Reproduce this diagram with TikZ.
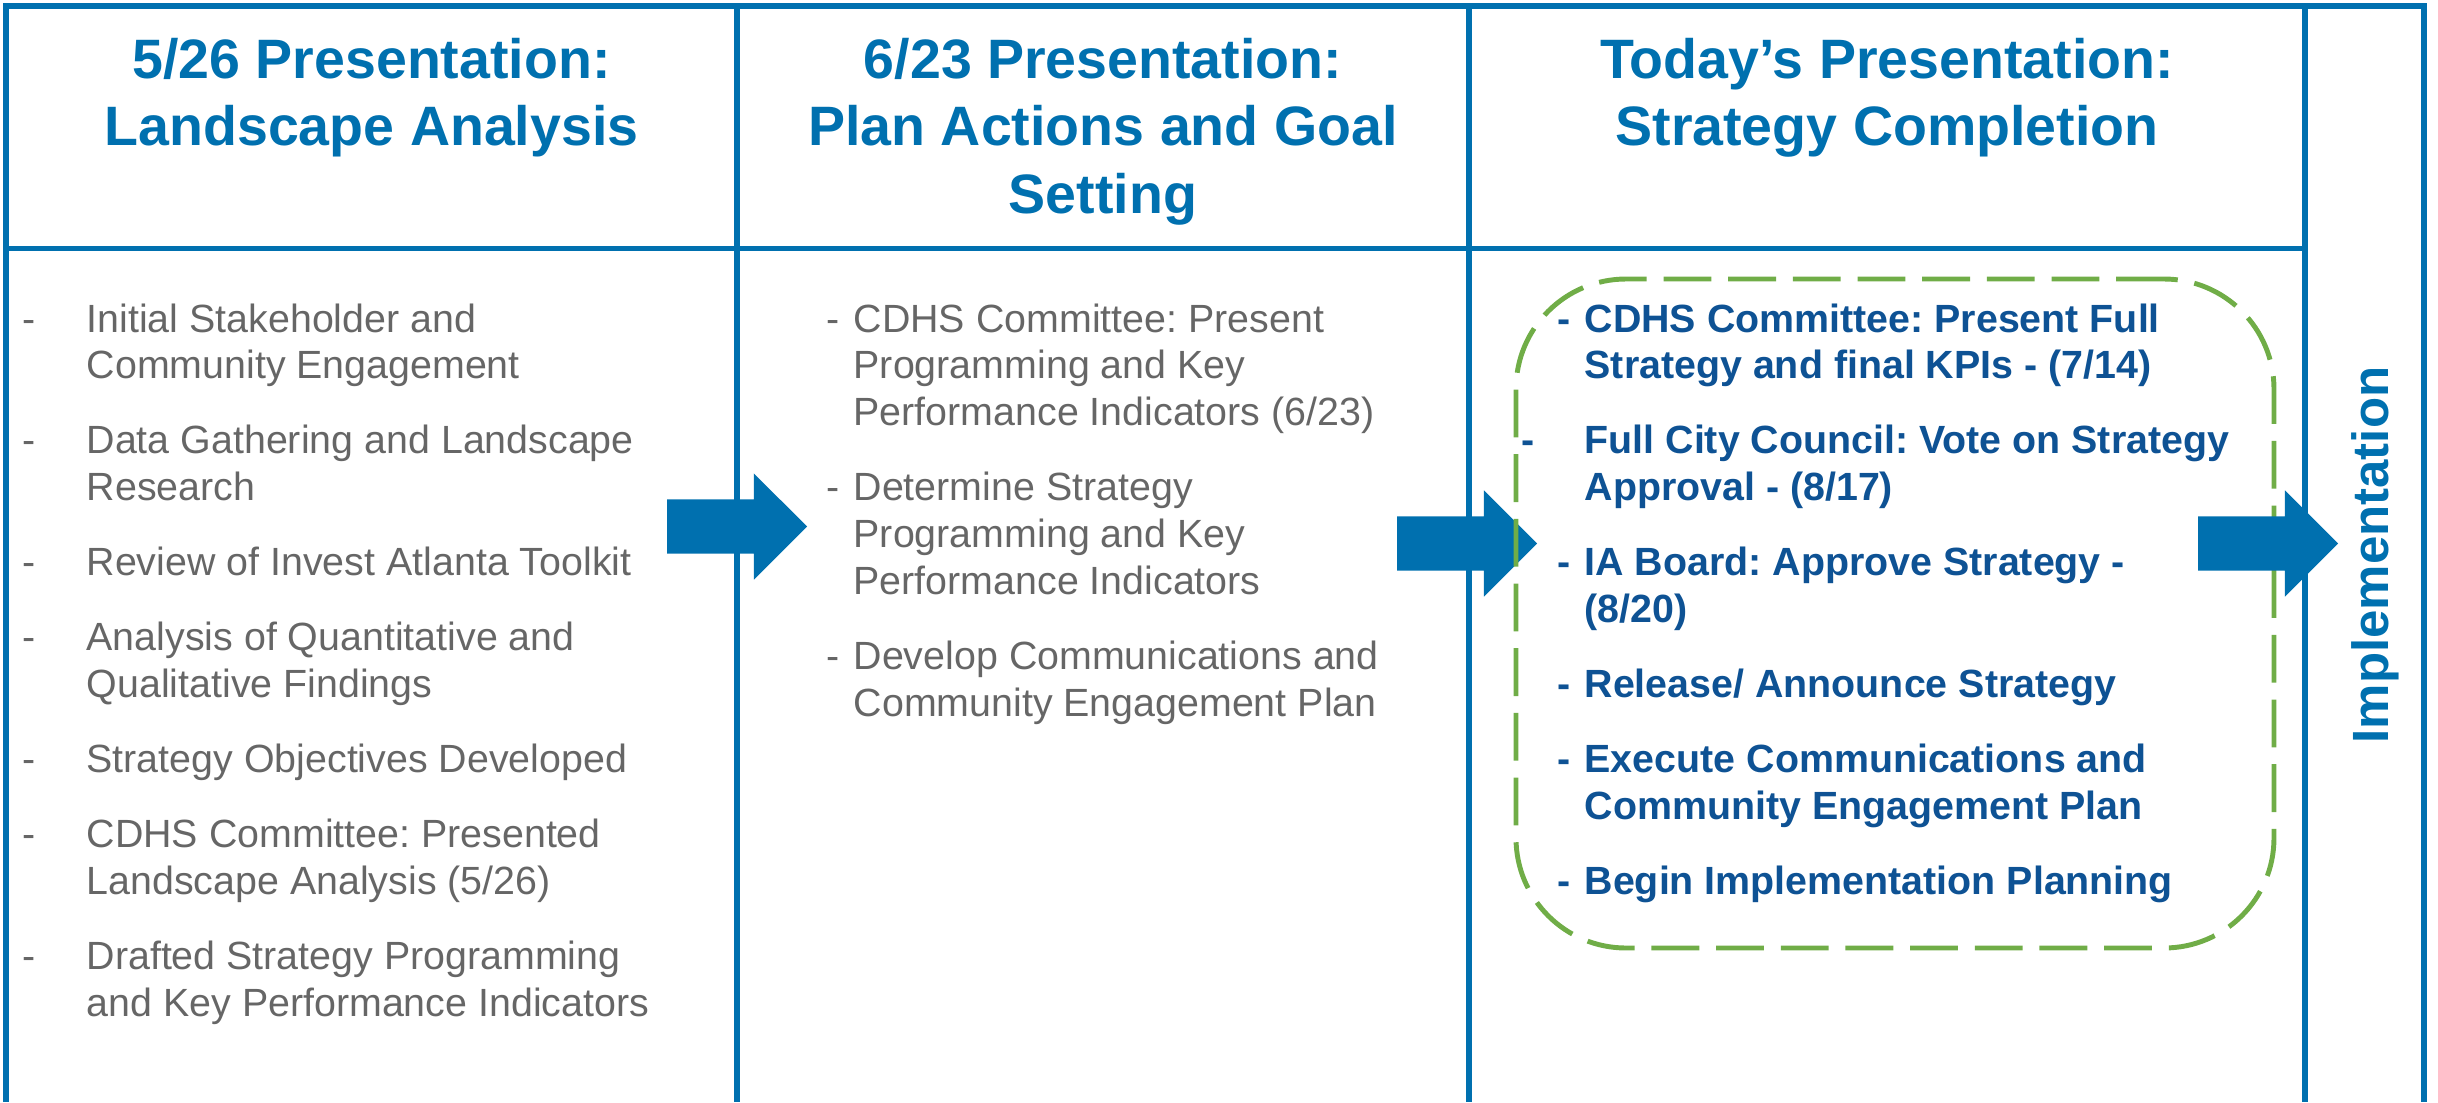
\documentclass[tikz,border=0pt]{standalone}
\usepackage{fontspec}
\setmainfont{Liberation Sans}
\usetikzlibrary{shapes.arrows,positioning}

\definecolor{frameblue}{RGB}{0,112,175}
\definecolor{textgray}{RGB}{102,102,102}
\definecolor{darkblue}{RGB}{14,82,148}
\definecolor{boxgreen}{RGB}{112,173,71}

\frenchspacing

% one dashed entry: dash column of width #1, lines of #2 split by \\&
\newcommand{\entry}[2]{\begin{tabular}[t]{@{}p{#1}@{}l@{}}-&#2\end{tabular}}
\newcommand{\headlines}[1]{\begin{tabular}[t]{@{}c@{}}#1\end{tabular}}

\begin{document}
\begin{tikzpicture}[
    frame/.style={draw=frameblue, line width=1.7pt},
    head/.style={anchor=base, inner sep=0pt, text=frameblue, font=\bfseries\fontsize{15.8}{19.3}\selectfont},
    task/.style={anchor=base west, inner sep=0pt, text=textgray, font=\fontsize{11.2}{13.3}\selectfont},
    keytask/.style={task, text=darkblue, font=\bfseries\fontsize{11.2}{13.3}\selectfont},
    follow/.style={below=0.27cm of #1.south west, anchor=north west},
    blockarrow/.style={single arrow, fill=frameblue, inner xsep=0pt, inner ysep=0.265cm, minimum height=1.40cm, single arrow head extend=0.26cm, anchor=tip},
    focusbox/.style={rectangle, draw=boxgreen, line width=1.4pt, dash pattern=on 13.6pt off 4.8pt, rounded corners=1.1cm}
]
\useasboundingbox (0,0) rectangle (24.38,-11.02);

% Table frame
\draw[frame] (0.06,-11.02) -- (0.06,-0.06) -- (24.24,-0.06) -- (24.24,-11.02);
\draw[frame] (0.06,-2.485) -- (23.05,-2.485);
\foreach \x in {7.37,14.69,23.05}
    \draw[frame] (\x,-0.06) -- (\x,-11.02);

% Arrows between the stages
\node[blockarrow] (step_a) at (8.08,-5.265) {};
\node[blockarrow] (step_b) at (15.38,-5.435) {};

% Current stage box
\node[focusbox, minimum width=7.58cm, minimum height=6.69cm] (today_box) at (18.95,-6.135) {};

\node[blockarrow] (step_c) at (23.39,-5.435) {};

% Column headers
\node[head] (landscape) at (3.715,-0.78) {\headlines{5/26 Presentation:\\Landscape Analysis}};
\node[head] (plan) at (11.03,-0.78) {\headlines{6/23 Presentation:\\Plan Actions and Goal\\Setting}};
\node[head] (today) at (18.87,-0.78) {\headlines{Today’s Presentation:\\Strategy Completion}};
\node[head, rotate=90, font=\bfseries\fontsize{14.5}{17}\selectfont] (impl) at (23.88,-5.55) {Implementation};

% Landscape analysis tasks
\node[task] (land1) at (0.22,-3.32) {\entry{0.64cm}{Initial Stakeholder and\\&Community Engagement}};
\node[task, follow=land1] (land2) {\entry{0.64cm}{Data Gathering and Landscape\\&Research}};
\node[task, follow=land2] (land3) {\entry{0.64cm}{Review of Invest Atlanta Toolkit}};
\node[task, follow=land3] (land4) {\entry{0.64cm}{Analysis of Quantitative and\\&Qualitative Findings}};
\node[task, follow=land4] (land5) {\entry{0.64cm}{Strategy Objectives Developed}};
\node[task, follow=land5] (land6) {\entry{0.64cm}{CDHS Committee: Presented\\&Landscape Analysis (5/26)}};
\node[task, follow=land6] (land7) {\entry{0.64cm}{Drafted Strategy Programming\\&and Key Performance Indicators}};

% Planning tasks
\node[task] (plan1) at (8.26,-3.32) {\entry{0.27cm}{CDHS Committee: Present\\&Programming and Key\\&Performance Indicators (6/23)}};
\node[task, follow=plan1] (plan2) {\entry{0.27cm}{Determine Strategy\\&Programming and Key\\&Performance Indicators}};
\node[task, follow=plan2] (plan3) {\entry{0.27cm}{Develop Communications and\\&Community Engagement Plan}};

% Completion tasks
\node[keytask] (done1) at (15.57,-3.32) {\entry{0.27cm}{CDHS Committee: Present Full\\&Strategy and final KPIs - (7/14)}};
\node[keytask, follow=done1, xshift=-0.36cm] (done2) {\entry{0.63cm}{Full City Council: Vote on Strategy\\&Approval - (8/17)}};
\node[keytask, follow=done2, xshift=0.36cm] (done3) {\entry{0.27cm}{IA Board: Approve Strategy -\\&(8/20)}};
\node[keytask, follow=done3] (done4) {\entry{0.27cm}{Release/ Announce Strategy}};
\node[keytask, follow=done4] (done5) {\entry{0.27cm}{Execute Communications and\\&Community Engagement Plan}};
\node[keytask, follow=done5] (done6) {\entry{0.27cm}{Begin Implementation Planning}};

\end{tikzpicture}
\end{document}
